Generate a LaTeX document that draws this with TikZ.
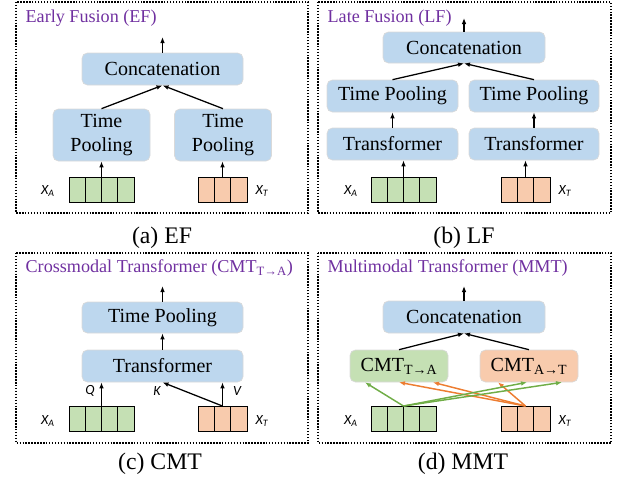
\documentclass[tikz,border=0pt]{standalone}
\usepackage{fontspec}
\setmainfont{Liberation Serif}
\newfontfamily\labfont{Carlito}
\usetikzlibrary{shapes, arrows.meta, calc}

\newdimen\pxu \pxu=0.75pt
\definecolor{boxblue}{RGB}{189,215,238}
\definecolor{cellgreen}{RGB}{197,224,180}
\definecolor{cellorange}{RGB}{248,203,173}
\definecolor{arrgreen}{RGB}{112,173,71}
\definecolor{arrorange}{RGB}{237,125,49}
\definecolor{titlepurple}{RGB}{112,48,160}

\tikzset{
  panelframe/.style={draw, line width=1.1pt, dash pattern=on 1.1pt off 1.1pt},
  blk/.style={draw=gray!30, line width=0.5pt, fill=boxblue, rounded corners=4pt, inner sep=0pt, align=center,
    font=\fontsize{15}{17.3}\selectfont},
  paneltitle/.style={anchor=west, inner sep=0pt, text=titlepurple, font=\fontsize{13.6}{16}\selectfont},
  captext/.style={inner sep=0pt, font=\fontsize{17.8}{20}\selectfont},
  lab/.style={inner sep=0pt, font=\labfont\itshape\fontsize{10.5}{12}\selectfont},
  arrcells/.style={draw, line width=0.7pt, inner sep=0pt, minimum height=25\pxu,
    path picture={\foreach \k in {1,...,#1}
      \draw[line width=0.7pt] ($(path picture bounding box.south west)!\k/(#1+1)!(path picture bounding box.south east)$)
        -- ($(path picture bounding box.north west)!\k/(#1+1)!(path picture bounding box.north east)$);}},
  gcells/.style={arrcells=3, minimum width=65\pxu, fill=cellgreen},
  ocells/.style={arrcells=2, minimum width=49\pxu, fill=cellorange},
  mixarr/.style={->, line width=1.1pt}
}

\begin{document}
\begin{tikzpicture}[x=0.75pt, y=-0.75pt, >={Latex[length=4.5pt,width=3.5pt]}, line width=0.95pt]
\useasboundingbox (0,0) rectangle (624,482);

% (a) early fusion
\draw[panelframe] (16,2) rectangle (308,213);
\node[paneltitle] (tia) at (25,18) {Early Fusion (EF)};
\node[blk, minimum width=161\pxu, minimum height=32\pxu] (cata) at (162.5,69) {Concatenation};
\node[blk, minimum width=97\pxu, minimum height=52\pxu] (tpa1) at (101.5,135) {Time\\Pooling};
\node[blk, minimum width=97\pxu, minimum height=52\pxu] (tpa2) at (223,135) {Time\\Pooling};
\node[gcells] (xaa) at (101.5,189.5) {};
\node[ocells] (xta) at (222.5,189.5) {};
\node[lab] (laa) at (48,191) {X\textsubscript{A}};
\node[lab] (lta) at (262,191) {X\textsubscript{T}};
\coordinate (outa) at (162.5,37);
\draw[->] (xaa.north) -- (xaa.north |- tpa1.south);
\draw[->] (xta.north) -- (xta.north |- tpa2.south);
\draw[->] (tpa1.north) -- (cata.south);
\draw[->] (tpa2.north) -- (cata.south);
\draw[->] (cata.north) -- (outa);
\node[captext] (capa) at (162,238) {(a) EF};

% (b) late fusion
\draw[panelframe] (318,2) rectangle (611,213);
\node[paneltitle] (tib) at (327,18) {Late Fusion (LF)};
\node[blk, minimum width=162\pxu, minimum height=31\pxu] (catb) at (464,47.5) {Concatenation};
\node[blk, minimum width=131\pxu, minimum height=32\pxu] (tpb1) at (392.5,96) {Time Pooling};
\node[blk, minimum width=130\pxu, minimum height=32\pxu] (tpb2) at (534,96) {Time Pooling};
\node[blk, minimum width=131\pxu, minimum height=32\pxu] (trb1) at (392.5,144) {Transformer};
\node[blk, minimum width=130\pxu, minimum height=32\pxu] (trb2) at (534,144) {Transformer};
\node[gcells] (xab) at (403.5,189.5) {};
\node[ocells] (xtb) at (525.5,189.5) {};
\node[lab] (lab) at (351,191) {X\textsubscript{A}};
\node[lab] (ltb) at (565,191) {X\textsubscript{T}};
\coordinate (outb) at (464,18);
\draw[->] (xab.north) -- (xab.north |- trb1.south);
\draw[->] (xtb.north) -- (xtb.north |- trb2.south);
\draw[->] (trb1) -- (tpb1);
\draw[->] (trb2) -- (tpb2);
\draw[->] (tpb1.north) -- (catb.south);
\draw[->] (tpb2.north) -- (catb.south);
\draw[->] (catb.north) -- (outb);
\node[captext] (capb) at (464,238) {(b) LF};

% (c) crossmodal transformer
\draw[panelframe] (16,253) rectangle (308,443);
\node[paneltitle] (tic) at (25,268) {Crossmodal Transformer (CMT\textsubscript{T→A})};
\node[blk, minimum width=161\pxu, minimum height=31\pxu] (tpc) at (162.5,317.5) {Time Pooling};
\node[blk, minimum width=161\pxu, minimum height=32\pxu] (trc) at (162.5,366) {Transformer};
\node[gcells] (xac) at (101.5,419) {};
\node[ocells] (xtc) at (222.5,419) {};
\node[lab] (lac) at (48,421) {X\textsubscript{A}};
\node[lab] (ltc) at (262,421) {X\textsubscript{T}};
\node[lab] (lq) at (90,391) {Q};
\node[lab] (lk) at (157,391) {K};
\node[lab] (lv) at (237,391) {V};
\coordinate (outc) at (162.5,286);
\draw[->] (xac.north) -- (xac.north |- trc.south);
\draw[->] (xtc.north) -- (trc.south);
\draw[->] (xtc.north) -- (xtc.north |- trc.south);
\draw[->] (trc) -- (tpc);
\draw[->] (tpc.north) -- (outc);
\node[captext] (capc) at (160,464) {(c) CMT};

% (d) multimodal transformer
\draw[panelframe] (318,253) rectangle (611,443);
\node[paneltitle] (tid) at (327,268) {Multimodal Transformer (MMT)};
\node[blk, minimum width=162\pxu, minimum height=32\pxu] (catd) at (464,317) {Concatenation};
\node[blk, fill=cellgreen, minimum width=98\pxu, minimum height=32\pxu] (cmt1) at (399,366) {CMT\textsubscript{T→A}};
\node[blk, fill=cellorange, minimum width=98\pxu, minimum height=32\pxu] (cmt2) at (529,366) {CMT\textsubscript{A→T}};
\node[gcells] (xad) at (403.5,419) {};
\node[ocells] (xtd) at (525.5,419) {};
\node[lab] (lad) at (351,421) {X\textsubscript{A}};
\node[lab] (ltd) at (565,421) {X\textsubscript{T}};
\coordinate (outd) at (464,286);
\draw[mixarr, arrgreen] (xad.north) -- ([xshift=-34\pxu]cmt1.south);
\draw[mixarr, arrorange] (xtd.north) -- (cmt1.south);
\draw[mixarr, arrorange] (xtd.north) -- ([xshift=34\pxu]cmt1.south);
\draw[mixarr, arrorange] (xtd.north) -- ([xshift=-31\pxu]cmt2.south);
\draw[mixarr, arrgreen] (xad.north) -- ([xshift=-2\pxu]cmt2.south);
\draw[mixarr, arrgreen] (xad.north) -- ([xshift=33\pxu]cmt2.south);
\draw[->] (cmt1.north) -- (catd.south);
\draw[->] (cmt2.north) -- (catd.south);
\draw[->] (catd.north) -- (outd);
\node[captext] (capd) at (463,464) {(d) MMT};
\end{tikzpicture}
\end{document}
